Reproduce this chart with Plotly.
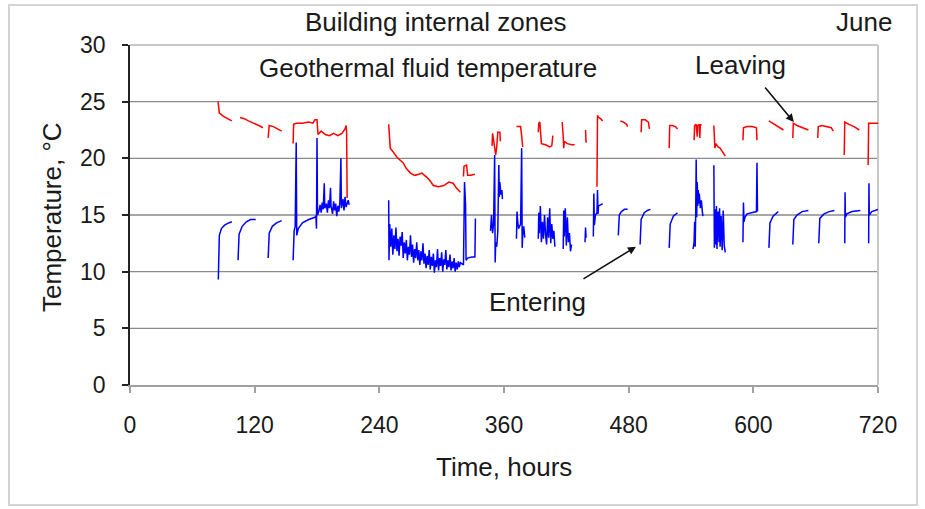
import plotly.graph_objects as go

# ---------------- data (hours, temperature °C) ----------------
x_ticks = [0, 120, 240, 360, 480, 600, 720]
y_ticks = [0, 5, 10, 15, 20, 25, 30]

leaving_segments = [
    [(84.8, 25.0), (85.5, 24.3), (86, 24.0), (90, 23.7), (98, 23.3)],
    [(106, 23.6), (110, 23.5), (114, 23.3), (120, 23.1), (124, 22.9), (128, 22.7)],
    [(133, 21.8), (134, 22.9), (138, 22.8), (142, 22.6), (146, 22.4)],
    [(157, 21.3), (157.5, 23.0), (160, 23.1), (166, 23.1), (172, 23.2), (176, 23.1), (178, 23.4),
     (180, 23.4), (181, 22.1), (184, 22.4), (188, 22.1), (192, 22.0), (196, 22.2), (200, 22.0),
     (204, 22.2), (207, 22.6), (208, 22.9), (208.5, 22.3), (209, 16.5)],
    [(249, 23.0), (249.5, 22.4), (250.5, 20.9), (253, 20.6), (257, 20.1), (263, 19.6), (266, 19.1),
     (270, 18.7), (274, 18.5), (278, 18.6), (281, 18.7), (286, 18.3), (289, 18.0), (292, 17.6),
     (297, 17.5), (302, 17.6), (305, 17.8), (307, 17.9), (311, 17.8), (314, 17.4), (318, 17.0)],
    [(321, 18.4), (321.5, 19.3), (324, 19.4), (325, 18.5), (328, 18.5), (332, 18.6)],
    [(348.5, 21.1), (349, 22.2), (350, 21.6), (351, 20.7), (352, 20.3), (353, 21.0), (354, 22.3),
     (356, 22.3), (356.5, 21.5)],
    [(372, 22.8), (376, 22.8), (377, 22.0), (378, 21.0)],
    [(393, 22.3), (393.5, 23.1), (394.5, 23.2), (395, 22.0), (396, 21.3), (400, 21.2), (404, 21.0),
     (406, 21.1), (407, 22.0)],
    [(416, 23.2), (416.5, 22.7), (417, 21.9), (417.5, 20.9), (418, 21.5), (421, 21.3), (425, 21.2),
     (428, 21.2)],
    [(438.5, 22.5), (439, 21.4), (439.5, 21.5)],
    [(449.5, 17.5), (450, 23.8), (451, 23.6), (453, 23.5), (455, 23.3)],
    [(472, 23.3), (475, 23.2), (478, 23.0), (479, 22.8)],
    [(492, 22.3), (492.5, 23.4), (496, 23.4), (499, 23.2), (500, 22.6)],
    [(519, 20.9), (519.5, 22.9), (522, 22.9), (525, 22.8), (527, 22.6)],
    [(543, 21.6), (543.5, 22.9), (545, 23.0), (546, 21.9), (546.5, 22.9), (548, 23.0), (548.5, 21.8),
     (549, 23.0), (550, 22.9)],
    [(562, 22.9), (562.5, 21.5), (563, 20.9), (564, 21.3), (566, 21.0), (568, 20.9), (570, 20.6),
     (572, 20.4), (573, 20.2)],
    [(590, 21.6), (590.5, 22.7), (594, 22.8), (599, 22.8), (603, 22.7), (603.5, 21.6)],
    [(615, 23.3), (620, 23.0), (625, 22.7), (629, 22.5)],
    [(638, 21.8), (638.5, 23.1), (642, 22.9), (647, 22.7), (653, 22.5)],
    [(662, 21.8), (662.5, 22.8), (666, 22.9), (671, 22.8), (675, 22.7), (677, 22.4)],
    [(687.5, 20.3), (688, 23.2), (692, 23.0), (697, 22.8), (702, 22.5)],
    [(710.5, 19.4), (711, 23.1), (715, 23.1), (720, 23.1)],
]

entering_segments = [
    [(85, 9.3), (85.5, 12.5), (86, 13.2), (88, 13.8), (91, 14.1), (95, 14.3), (98, 14.4)],
    [(104, 11.0), (104.5, 12.8), (105, 13.3), (108, 14.0), (112, 14.4), (116, 14.6), (121, 14.6)],
    [(133, 11.2), (133.5, 12.9), (134, 13.4), (137, 14.0), (141, 14.3), (146, 14.5)],
    [(157, 11.0), (157.5, 12.8), (158, 13.6), (159, 14.0), (160, 21.4), (160.5, 13.2), (162, 13.8),
     (166, 14.3), (172, 14.6), (178, 14.8), (179, 14.9), (179.5, 13.8), (180, 21.8), (180.5, 15.0),
     (182, 15.4), (183, 15.9), (184, 15.2), (185, 16.1), (186, 15.5), (187, 17.8), (187.5, 15.6),
     (189, 16.0), (190, 15.2), (191, 16.3), (192, 15.6), (193, 17.4), (193.5, 15.8), (195, 15.1),
     (196, 16.2), (197, 15.4), (198, 16.0), (199, 14.9), (200, 15.8), (201, 15.3), (202, 16.1),
     (203, 20.0), (203.5, 15.6), (205, 16.4), (206, 15.4), (207, 16.6), (208, 15.7), (210, 16.3),
     (211, 15.9)],
    [(249, 16.3), (249.3, 11.0), (250, 14.2), (251, 12.2), (252, 13.8), (253, 11.5), (254, 13.2),
     (255, 12.0), (256, 13.9), (257, 11.8), (258, 12.9), (259, 11.4), (260, 13.1), (261, 12.3),
     (262, 13.5), (263, 11.2), (264, 12.6), (265, 11.6), (266, 12.8), (267, 11.0), (268, 12.2),
     (269, 11.5), (270, 13.2), (271, 11.3), (272, 12.4), (273, 10.8), (274, 12.0), (275, 11.2),
     (276, 12.6), (277, 11.0), (278, 11.9), (279, 10.6), (280, 11.8), (281, 11.0), (282, 12.5),
     (283, 10.7), (284, 11.6), (285, 10.3), (286, 11.4), (287, 10.6), (288, 11.9), (289, 10.2),
     (290, 11.3), (291, 10.5), (292, 11.6), (293, 9.9), (294, 11.0), (295, 10.4), (296, 12.0),
     (297, 10.1), (298, 11.2), (299, 10.5), (300, 11.7), (301, 10.0), (302, 11.1), (303, 10.6),
     (304, 11.9), (305, 10.2), (306, 11.0), (307, 10.4), (308, 11.5), (309, 10.1), (310, 10.9),
     (311, 10.3), (312, 11.2), (313, 10.0), (314, 10.8), (315, 10.2), (316, 10.9), (317, 10.4),
     (318, 10.8), (321, 10.6), (322, 17.9), (322.5, 16.5), (323, 15.9), (323.5, 11.0), (325, 11.2),
     (329, 11.3), (332, 11.3), (332.5, 14.7)],
    [(347, 13.6), (348, 15.0), (349, 13.4), (350, 14.2), (351, 20.3), (351.5, 10.8), (352, 12.6),
     (353, 12.2), (354, 13.5), (355, 19.4), (355.5, 16.6), (356, 17.9), (357, 16.8), (358, 17.2),
     (358.5, 16.4)],
    [(372, 12.9), (372.5, 15.3), (373, 14.6), (374, 13.8), (376, 14.2), (377, 20.9), (377.5, 12.1),
     (378, 13.2), (379, 14.0), (380, 13.0)],
    [(393, 12.9), (393.5, 15.2), (394, 13.4), (395, 15.8), (396, 12.6), (397, 14.4), (398, 12.9),
     (399, 15.0), (400, 13.3), (401, 12.4), (402, 14.8), (403, 13.0), (404, 15.6), (405, 12.5),
     (406, 14.2), (407, 12.9), (408, 13.6), (409, 12.2)],
    [(417, 12.0), (417.5, 15.4), (418, 13.1), (419, 15.6), (420, 12.3), (421, 14.8), (422, 12.6),
     (423, 13.4), (424, 11.8), (425, 12.4)],
    [(438, 12.6), (438.5, 13.9), (439, 13.0)],
    [(446, 13.1), (446.5, 16.9), (447, 14.1), (448, 15.0), (449.5, 15.2), (450, 17.2), (450.5, 15.1),
     (451, 15.8), (453, 15.9), (455, 16.0)],
    [(470, 13.2), (470.5, 14.5), (471, 15.0), (473, 15.3), (476, 15.5), (479, 15.5)],
    [(491, 12.4), (491.5, 13.8), (492, 14.6), (495, 15.2), (498, 15.4), (501, 15.5)],
    [(519, 12.1), (519.5, 13.5), (520, 14.2), (523, 14.9), (527, 15.2)],
    [(542, 12.0), (543, 12.6), (543.5, 14.4), (544, 12.2), (544.5, 15.0), (545, 19.9), (545.5, 14.8),
     (546, 17.9), (546.5, 15.8), (547, 17.2), (547.5, 16.0), (548, 16.9), (549, 15.6), (550, 16.3),
     (551, 15.2), (551.5, 14.9)],
    [(562, 19.4), (562.5, 12.1), (563, 15.5), (564, 12.4), (564.5, 15.8), (565, 12.0), (566, 15.3),
     (567, 12.6), (567.5, 15.6), (568, 12.2), (569, 14.9), (570, 11.9), (571, 15.4), (572, 12.3),
     (573, 11.7)],
    [(590, 12.6), (590.5, 16.1), (591, 14.4), (592, 14.8), (594, 15.1), (598, 15.2), (603, 15.3),
     (603.5, 19.6), (604, 15.3)],
    [(615, 12.1), (615.5, 13.6), (616, 14.3), (619, 14.9), (624, 15.3)],
    [(638, 12.4), (638.5, 13.9), (639, 14.6), (642, 15.0), (647, 15.3), (653, 15.4)],
    [(663, 12.5), (663.5, 14.0), (664, 14.7), (668, 15.1), (673, 15.3), (678, 15.4)],
    [(688, 12.5), (688.3, 17.0), (688.6, 14.8), (690, 15.1), (695, 15.3), (703, 15.4)],
    [(711, 12.5), (711.3, 17.8), (711.6, 15.0), (714, 15.3), (720, 15.5)],
]


def flatten(segments):
    xs, ys = [], []
    for seg in segments:
        for h, t in seg:
            xs.append(h)
            ys.append(t)
        xs.append(None)
        ys.append(None)
    return xs, ys


lx, ly = flatten(leaving_segments)
ex, ey = flatten(entering_segments)

# ---------------- layout geometry ----------------
W, H = 925, 509
ML, MR, MT, MB = 130, 47, 45, 124
PW, PH = W - ML - MR, H - MT - MB


def px(x):
    return (x - ML) / PW


def py(y):
    return (H - MB - y) / PH


FONT = "Liberation Sans, Arial, sans-serif"

fig = go.Figure()
fig.add_trace(go.Scatter(x=ex, y=ey, mode="lines", line=dict(color="#0000FF", width=1.5),
                         connectgaps=False, showlegend=False, hoverinfo="skip"))
fig.add_trace(go.Scatter(x=lx, y=ly, mode="lines", line=dict(color="#FF0000", width=1.5),
                         connectgaps=False, showlegend=False, hoverinfo="skip"))

shapes = []
# gridlines
for v in y_ticks[1:-1]:
    shapes.append(dict(type="line", xref="paper", yref="y", x0=0, x1=1, y0=v, y1=v,
                       line=dict(color="#8a8a8a", width=1.4), layer="below"))
# top & right plot border
shapes.append(dict(type="line", xref="paper", yref="paper", x0=0, x1=1, y0=1, y1=1,
                   line=dict(color="#c8c8c8", width=2), layer="below"))
shapes.append(dict(type="line", xref="paper", yref="paper", x0=1, x1=1, y0=0, y1=1,
                   line=dict(color="#c8c8c8", width=2), layer="below"))
# outer frame
shapes.append(dict(type="rect", xref="paper", yref="paper", x0=px(9), x1=px(917), y0=py(505), y1=py(5),
                   line=dict(color="#d4d4d4", width=2), fillcolor="rgba(0,0,0,0)", layer="below"))

annotations = [
    dict(text="Building internal zones", x=px(436), y=py(22)),
    dict(text="June", x=px(864), y=py(22)),
    dict(text="Geothermal fluid temperature", x=px(428), y=py(68)),
    dict(text="Leaving", x=px(740), y=py(65)),
    dict(text="Entering", x=px(537), y=py(302)),
    dict(text="Time, hours", x=px(504), y=py(467)),
    dict(text="Temperature, °C", x=px(52), y=py(217), textangle=-90),
]
for a in annotations:
    a.update(xref="paper", yref="paper", showarrow=False, xanchor="center", yanchor="middle",
             font=dict(family=FONT, size=26, color="#1a1a1a"))

# arrows
annotations.append(dict(x=639, y=23.2, xref="x", yref="y", text="", showarrow=True,
                        ax=-30, ay=-36, arrowhead=2, arrowsize=1, arrowwidth=1.6, arrowcolor="#111"))
annotations.append(dict(x=487, y=12.2, xref="x", yref="y", text="", showarrow=True,
                        ax=-54, ay=33, arrowhead=2, arrowsize=1, arrowwidth=1.6, arrowcolor="#111"))

fig.update_layout(
    width=W, height=H,
    margin=dict(l=ML, r=MR, t=MT, b=MB, pad=0),
    paper_bgcolor="white", plot_bgcolor="white",
    shapes=shapes, annotations=annotations,
    xaxis=dict(range=[0, 720], tickvals=x_ticks, ticktext=[str(v) for v in x_ticks],
               showgrid=False, zeroline=False, showline=True, linecolor="#a0a0a0", linewidth=2,
               ticks="outside", ticklen=6, tickcolor="#a0a0a0", tickwidth=1.5,
               ticklabelstandoff=12,
               tickfont=dict(family=FONT, size=23, color="#1a1a1a")),
    yaxis=dict(range=[0, 30], tickvals=y_ticks, ticktext=[str(v) for v in y_ticks],
               showgrid=False, zeroline=False, showline=True, linecolor="#222", linewidth=1.5,
               ticks="outside", ticklen=6, tickcolor="#222", tickwidth=1.5,
               ticklabelstandoff=12,
               tickfont=dict(family=FONT, size=23, color="#1a1a1a")),
    showlegend=False,
)

fig.write_html("out.html")
